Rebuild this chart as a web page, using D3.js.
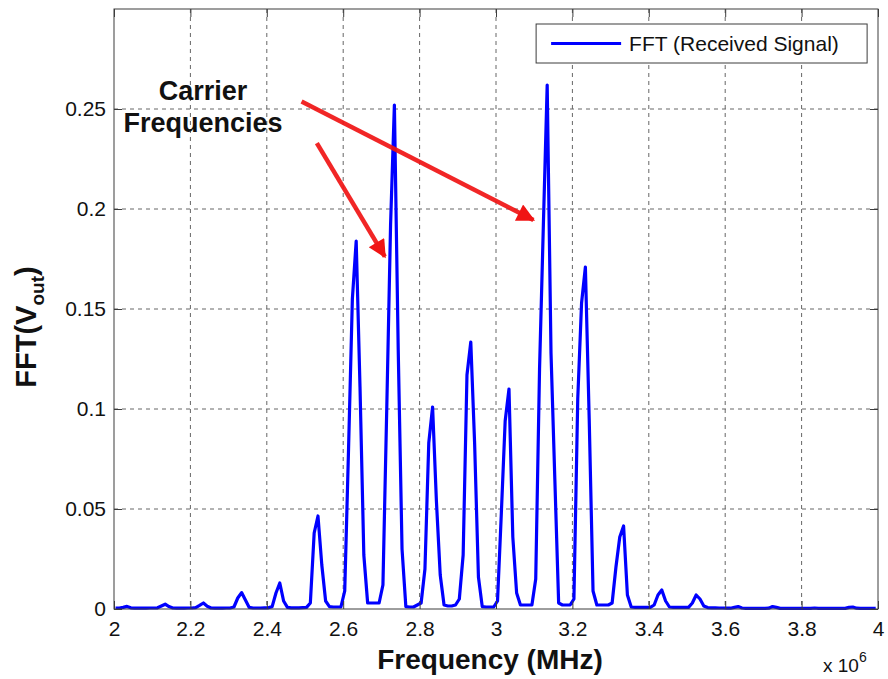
<!DOCTYPE html>
<html>
<head>
<meta charset="utf-8">
<script src="https://cdn.jsdelivr.net/npm/d3@7/dist/d3.min.js"></script>
<style>
  html, body { margin: 0; padding: 0; background: #fff; }
  svg { display: block; font-family: "Liberation Sans", Arial, Helvetica, sans-serif; }
</style>
</head>
<body>
<svg id="chart" width="888" height="679"></svg>
<script>
// Spectrum of the received signal: uniform FFT bins (MHz) and magnitudes
const freqStartMHz = 2.004;
const freqStepMHz = 0.01;
const fftMagnitude = [
  // 2.00 - 2.10
  0.0005, 0.0005, 0.0008, 0.0013, 0.0006, 0.0004, 0.0004, 0.0004, 0.0004, 0.0005,
  // 2.10 - 2.20
  0.0005, 0.0006, 0.0015, 0.0024, 0.0012, 0.0005, 0.0004, 0.0004, 0.0004, 0.0005,
  // 2.20 - 2.30
  0.0005, 0.0007, 0.0018, 0.0030, 0.0014, 0.0005, 0.0004, 0.0004, 0.0004, 0.0005,
  // 2.30 - 2.40
  0.0005, 0.0010, 0.0055, 0.0082, 0.0045, 0.0008, 0.0005, 0.0005, 0.0005, 0.0006,
  // 2.40 - 2.50
  0.0006, 0.0012, 0.0080, 0.0130, 0.0040, 0.0008, 0.0006, 0.0006, 0.0006, 0.0007,
  // 2.50 - 2.60
  0.0008, 0.0030, 0.0380, 0.0465, 0.0220, 0.0040, 0.0012, 0.0010, 0.0010, 0.0010,
  // 2.60 - 2.70
  0.0090, 0.0800, 0.1550, 0.1840, 0.1110, 0.0270, 0.0030, 0.0030, 0.0030, 0.0030,
  // 2.70 - 2.80
  0.0120, 0.1000, 0.1920, 0.2520, 0.1300, 0.0300, 0.0012, 0.0010, 0.0010, 0.0020,
  // 2.80 - 2.90
  0.0030, 0.0200, 0.0830, 0.1010, 0.0540, 0.0170, 0.0020, 0.0015, 0.0015, 0.0020,
  // 2.90 - 3.00
  0.0050, 0.0270, 0.1170, 0.1335, 0.0830, 0.0160, 0.0012, 0.0010, 0.0010, 0.0010,
  // 3.00 - 3.10
  0.0040, 0.0480, 0.0940, 0.1100, 0.0360, 0.0080, 0.0020, 0.0020, 0.0020, 0.0020,
  // 3.10 - 3.20
  0.0150, 0.1200, 0.1920, 0.2620, 0.1280, 0.0650, 0.0030, 0.0020, 0.0020, 0.0020,
  // 3.20 - 3.30
  0.0050, 0.1050, 0.1530, 0.1710, 0.0950, 0.0090, 0.0020, 0.0020, 0.0020, 0.0020,
  // 3.30 - 3.40
  0.0030, 0.0210, 0.0360, 0.0415, 0.0070, 0.0010, 0.0008, 0.0008, 0.0008, 0.0008,
  // 3.40 - 3.50
  0.0008, 0.0020, 0.0070, 0.0095, 0.0040, 0.0010, 0.0008, 0.0008, 0.0008, 0.0008,
  // 3.50 - 3.60
  0.0008, 0.0030, 0.0070, 0.0050, 0.0015, 0.0007, 0.0006, 0.0006, 0.0005, 0.0005,
  // 3.60 - 3.70
  0.0004, 0.0004, 0.0008, 0.0012, 0.0005, 0.0003, 0.0003, 0.0003, 0.0003, 0.0003,
  // 3.70 - 3.80
  0.0003, 0.0004, 0.0012, 0.0008, 0.0003, 0.0003, 0.0003, 0.0003, 0.0003, 0.0003,
  // 3.80 - 3.90
  0.0003, 0.0003, 0.0003, 0.0005, 0.0003, 0.0003, 0.0003, 0.0003, 0.0003, 0.0003,
  // 3.90 - 4.00
  0.0003, 0.0003, 0.0008, 0.0010, 0.0004, 0.0003, 0.0003, 0.0003, 0.0003, 0.0003
];

const xTickValues = [2, 2.2, 2.4, 2.6, 2.8, 3, 3.2, 3.4, 3.6, 3.8, 4];
const yTickValues = [0, 0.05, 0.1, 0.15, 0.2, 0.25];
const xDomain = [2, 4];
const yDomain = [0, 0.3];

const legendLabel = "FFT (Received Signal)";
const annotationLines = ["Carrier", "Frequencies"];
// Arrows from the annotation to the carrier peaks, in (MHz, magnitude) units
const arrowSpecs = [
  { from: [2.491, 0.2537], to: [3.098, 0.1945] },
  { from: [2.531, 0.2329], to: [2.709, 0.1762] }
];

// ---- layout ----
const margin = { left: 114, top: 9, right: 10, bottom: 70 };
const W = 888, H = 679;
const plotW = W - margin.left - margin.right;
const plotH = 600;

const svg = d3.select("#chart");
const g = svg.append("g").attr("transform", `translate(${margin.left},${margin.top})`);

const x = d3.scaleLinear().domain(xDomain).range([0, plotW]);
const y = d3.scaleLinear().domain(yDomain).range([plotH, 0]);

const points = fftMagnitude.map((v, i) => ({ f: freqStartMHz + i * freqStepMHz, v }));

const axisColor = "#3c3c3c";
const gridColor = "#666";
const tickFont = 21;

// grid
g.append("g").selectAll("line.vg")
  .data(xTickValues.filter(d => d > xDomain[0] && d < xDomain[1]))
  .join("line")
  .attr("x1", d => x(d)).attr("x2", d => x(d))
  .attr("y1", 0).attr("y2", plotH)
  .attr("stroke", gridColor).attr("stroke-width", 1)
  .attr("stroke-dasharray", "4,4");
g.append("g").selectAll("line.hg")
  .data(yTickValues.filter(d => d > yDomain[0]))
  .join("line")
  .attr("x1", 0).attr("x2", plotW)
  .attr("y1", d => y(d)).attr("y2", d => y(d))
  .attr("stroke", gridColor).attr("stroke-width", 1)
  .attr("stroke-dasharray", "4,4");

// spectrum line
const line = d3.line().x(d => x(d.f)).y(d => y(d.v));
g.append("path")
  .datum(points)
  .attr("fill", "none")
  .attr("stroke", "#0000ff")
  .attr("stroke-width", 3.2)
  .attr("stroke-linejoin", "round")
  .attr("d", line);

// axes (ticks drawn inward)
const fmtX = d => String(+d.toFixed(1));
const fmtY = d => String(+d.toFixed(2));
const tickLen = 8;

const xAxis = g.append("g").attr("transform", `translate(0,${plotH})`)
  .call(d3.axisBottom(x).tickValues(xTickValues).tickFormat(fmtX).tickSizeInner(-tickLen).tickSizeOuter(0).tickPadding(12));
const xAxisTop = g.append("g")
  .call(d3.axisTop(x).tickValues(xTickValues).tickFormat("").tickSizeInner(-tickLen).tickSizeOuter(0));
const yAxis = g.append("g")
  .call(d3.axisLeft(y).tickValues(yTickValues).tickFormat(fmtY).tickSizeInner(-tickLen).tickSizeOuter(0).tickPadding(8));
const yAxisRight = g.append("g").attr("transform", `translate(${plotW},0)`)
  .call(d3.axisRight(y).tickValues(yTickValues).tickFormat("").tickSizeInner(-tickLen).tickSizeOuter(0));

[xAxis, xAxisTop, yAxis, yAxisRight].forEach(a => {
  a.select(".domain").remove();
  a.selectAll(".tick line").attr("stroke", axisColor);
  a.selectAll("text").attr("fill", "#111").attr("font-size", tickFont)
    .attr("font-family", "'Liberation Sans', Arial, sans-serif");
});

// plot box
g.append("rect")
  .attr("x", 0).attr("y", 0).attr("width", plotW).attr("height", plotH)
  .attr("fill", "none").attr("stroke", axisColor).attr("stroke-width", 1);

// exponent label for the frequency axis
const expo = svg.append("text")
  .attr("x", W - 65).attr("y", H - 7)
  .attr("font-size", 19).attr("fill", "#111");
expo.append("tspan").text("x 10");
expo.append("tspan").attr("dy", -10).attr("font-size", 14).text("6");

// axis titles
svg.append("text")
  .attr("x", 490).attr("y", H - 10)
  .attr("text-anchor", "middle")
  .attr("font-size", 28).attr("font-weight", "bold").attr("fill", "#111")
  .text("Frequency (MHz)");

const yTitle = svg.append("text")
  .attr("transform", `translate(36,327) rotate(-90)`)
  .attr("text-anchor", "middle")
  .attr("font-size", 29).attr("font-weight", "bold").attr("fill", "#111");
yTitle.append("tspan").text("FFT(V");
yTitle.append("tspan").attr("dy", 8).attr("font-size", 19).text("out");
yTitle.append("tspan").attr("dy", -8).text(")");

// legend
const lg = g.append("g").attr("transform", `translate(${x(3.105)},${y(0.2925)})`);
lg.append("rect").attr("width", 331).attr("height", 39)
  .attr("fill", "#fff").attr("stroke", axisColor).attr("stroke-width", 1);
lg.append("line").attr("x1", 15).attr("x2", 85).attr("y1", 19.5).attr("y2", 19.5)
  .attr("stroke", "#0000ff").attr("stroke-width", 3);
lg.append("text").attr("x", 93).attr("y", 27).attr("font-size", 21).attr("fill", "#111")
  .text(legendLabel);

// annotation text, centred above the arrow tails
const ann = g.append("text")
  .attr("text-anchor", "middle")
  .attr("font-size", 27).attr("font-weight", "bold").attr("fill", "#111");
annotationLines.forEach((t, i) => {
  ann.append("tspan").attr("x", x(2.233)).attr("y", y(0.2545) + i * 32).text(t);
});

// arrows
const defs = svg.append("defs");
defs.append("marker")
  .attr("id", "arrowhead")
  .attr("viewBox", "0 0 10 10")
  .attr("refX", 9).attr("refY", 5)
  .attr("markerWidth", 5).attr("markerHeight", 4)
  .attr("markerUnits", "strokeWidth")
  .attr("orient", "auto")
  .append("path").attr("d", "M0,0 L10,5 L0,10 z").attr("fill", "#f01414");

g.append("g").selectAll("line")
  .data(arrowSpecs)
  .join("line")
  .attr("x1", d => x(d.from[0])).attr("y1", d => y(d.from[1]))
  .attr("x2", d => x(d.to[0])).attr("y2", d => y(d.to[1]))
  .attr("stroke", "#f01414").attr("stroke-width", 4.5)
  .attr("stroke-opacity", 0.92)
  .attr("marker-end", "url(#arrowhead)");
</script>
</body>
</html>
